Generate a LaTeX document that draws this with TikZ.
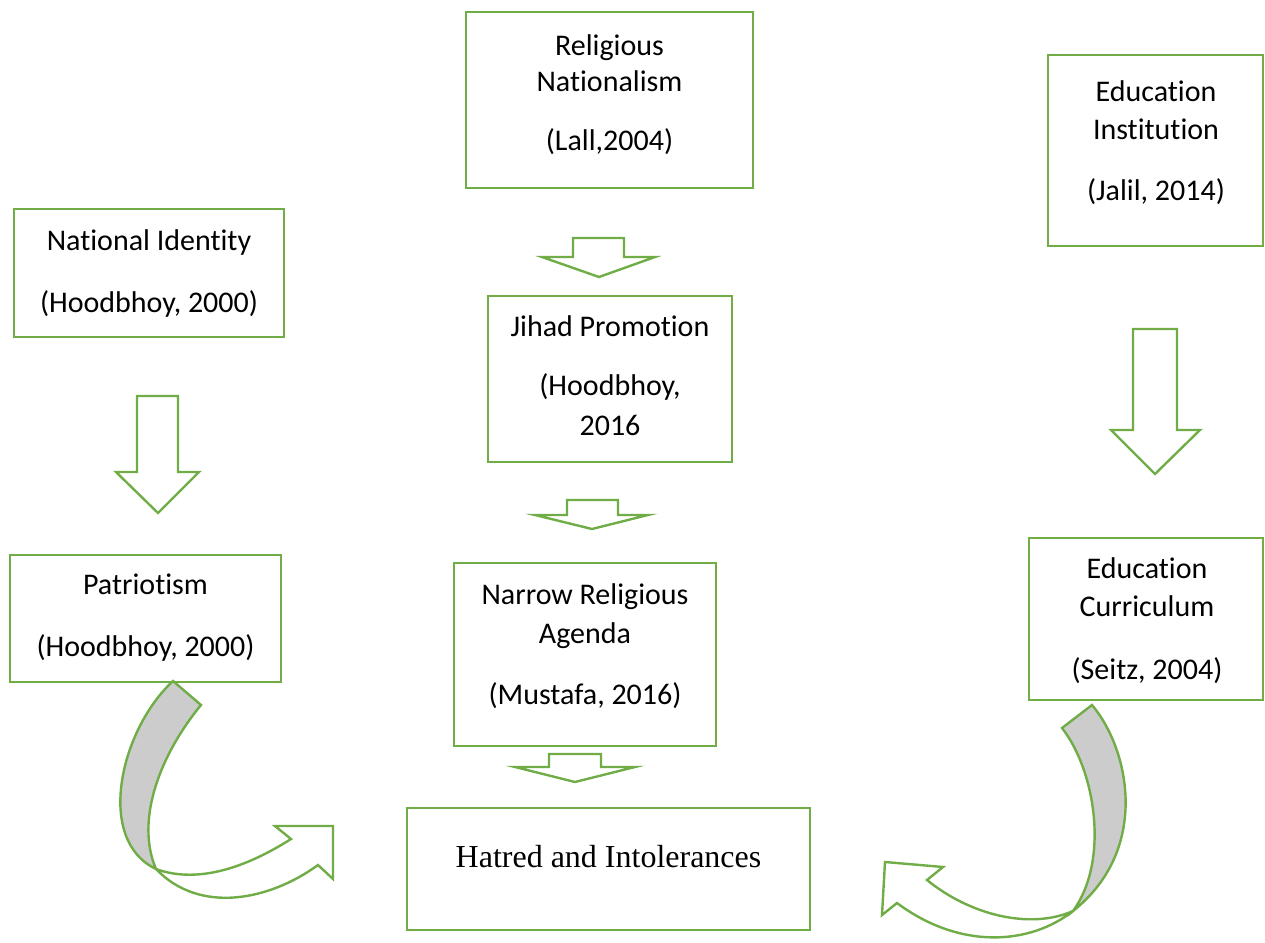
\documentclass[tikz,border=0pt]{standalone}
\usepackage{fontspec}
\setmainfont{Carlito}[Ligatures=NoCommon]
\newfontfamily\timesfont{Liberation Serif}
\definecolor{grn}{HTML}{70AD47}
\definecolor{gry}{HTML}{CCCCCC}
\begin{document}
\begin{tikzpicture}[x=0.5pt,y=-0.5pt,
  box/.style={draw=grn,line width=1pt,fill=white,inner sep=0pt},
  lbl/.style={anchor=base,inner sep=0pt,font=\fontsize{15}{17}\selectfont},
  blockarrow/.style={draw=grn,line width=1.2pt,fill=white,line join=miter},
  curvedarrow/.style={draw=grn,line width=1.2pt,line join=miter}]
\useasboundingbox (0,0) rectangle (1265,943);
% boxes
\node[box,minimum width=143.5pt,minimum height=88pt] (rn) at (609.5,100) {};
\node[box,minimum width=135pt,minimum height=64pt] (ni) at (149,273) {};
\node[box,minimum width=107.5pt,minimum height=95.5pt] (ei) at (1155.5,150.5) {};
\node[box,minimum width=122pt,minimum height=83pt] (jp) at (610,379) {};
\node[box,minimum width=135.5pt,minimum height=63.5pt] (pa) at (145.5,618.5) {};
\node[box,minimum width=131pt,minimum height=91.5pt] (nr) at (585,654.5) {};
\node[box,minimum width=117pt,minimum height=81pt] (ec) at (1146,619) {};
\node[box,minimum width=201.5pt,minimum height=61pt] (hi) at (608.5,869) {};
% texts
\node[lbl] (t1a) at (609.5,55) {Religious};
\node[lbl] (t1b) at (609.5,91) {Nationalism};
\node[lbl] (t1c) at (609.5,150) {(Lall,2004)};
\node[lbl] (t2a) at (149,250) {National Identity};
\node[lbl] (t2b) at (149,312) {(Hoodbhoy, 2000)};
\node[lbl] (t3a) at (1156,101) {Education};
\node[lbl] (t3b) at (1156,139) {Institution};
\node[lbl] (t3c) at (1156,200) {(Jalil, 2014)};
\node[lbl] (t4a) at (610,336) {Jihad Promotion};
\node[lbl] (t4b) at (610,395) {(Hoodbhoy,};
\node[lbl] (t4c) at (610,435) {2016};
\node[lbl] (t5a) at (145.5,594) {Patriotism};
\node[lbl] (t5b) at (145.5,656) {(Hoodbhoy, 2000)};
\node[lbl] (t6a) at (585,604) {Narrow Religious};
\node[lbl] (t6b) at (585,643) {Agenda};
\node[lbl] (t6c) at (585,704) {(Mustafa, 2016)};
\node[lbl] (t7a) at (1147,578) {Education};
\node[lbl] (t7b) at (1147,616) {Curriculum};
\node[lbl] (t7c) at (1147,679) {(Seitz, 2004)};
\node[anchor=base,inner sep=0pt,font=\timesfont\fontsize{16}{18}\selectfont] (t8) at (608.5,867) {Hatred and Intolerances};
% block arrows
\draw[blockarrow] (137,396) -- (178,396) -- (178,472) -- (199,472) -- (158,513) -- (116,472) -- (137,472) -- cycle;
\draw[blockarrow] (573,238) -- (624,238) -- (624,257) -- (655,257) -- (599,277) -- (542,257) -- (573,257) -- cycle;
\draw[blockarrow] (1133,329) -- (1177,329) -- (1177,430) -- (1200,430) -- (1155,474) -- (1111,430) -- (1133,430) -- cycle;
\draw[blockarrow] (567,500) -- (618,500) -- (618,515) -- (648,515) -- (592,529) -- (535,515) -- (567,515) -- cycle;
\draw[blockarrow] (549,754) -- (601,754) -- (601,767) -- (635,767) -- (575,782) -- (515,767) -- (549,767) -- cycle;
% left curved arrow
\coordinate (LX) at (156,869);
\fill[white] (LX) .. controls (200,885) and (250,865) .. (291,839) -- (275,826) -- (333,826) -- (333,879) -- (318,865) .. controls (270,900) and (200,915) .. (LX) -- cycle;
\draw[curvedarrow] (LX) .. controls (200,885) and (250,865) .. (291,839) -- (275,826) -- (333,826) -- (333,879) -- (318,865) .. controls (270,900) and (200,915) .. (LX);
\draw[curvedarrow,fill=gry] (173,681) -- (201,705) .. controls (160,755) and (135,820) .. (LX) .. controls (95,840) and (120,730) .. cycle;
% right curved arrow
\coordinate (RX) at (1073,911);
\fill[white] (RX) .. controls (1030,930) and (970,915) .. (927,880) -- (943,867) -- (885,862) -- (882,915) -- (897,903) .. controls (960,950) and (1030,945) .. (RX) -- cycle;
\draw[curvedarrow] (RX) .. controls (1030,930) and (970,915) .. (927,880) -- (943,867) -- (885,862) -- (882,915) -- (897,903) .. controls (960,950) and (1030,945) .. (RX);
\draw[curvedarrow,fill=gry] (1062,728) -- (1092,705) .. controls (1130,750) and (1150,850) .. (RX) .. controls (1110,860) and (1095,770) .. cycle;
\end{tikzpicture}
\end{document}
